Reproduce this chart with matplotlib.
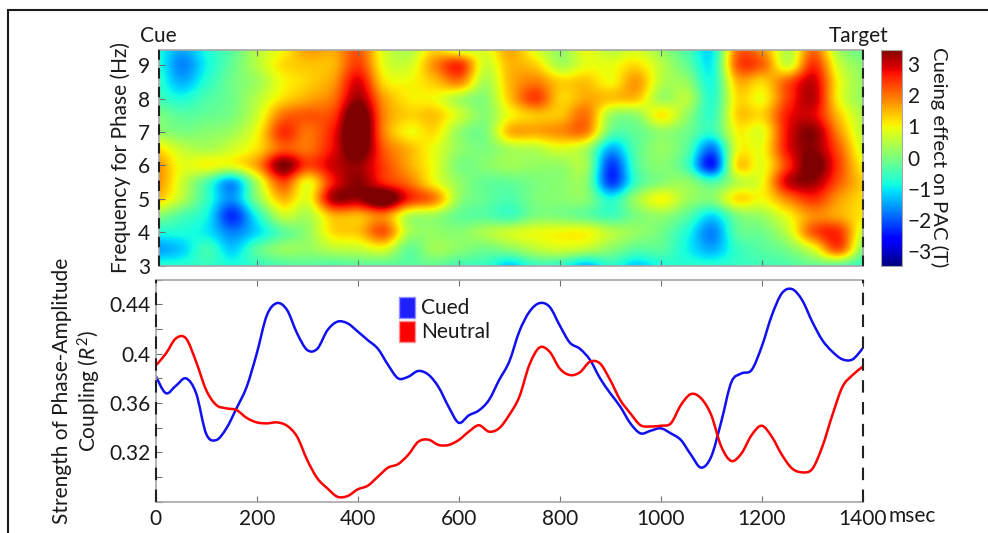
import numpy as np
import matplotlib
matplotlib.use('Agg')
import matplotlib.pyplot as plt
from matplotlib.lines import Line2D
from matplotlib.patches import Patch, PathPatch
from matplotlib.path import Path
from matplotlib.ticker import MultipleLocator

plt.rcParams['font.family'] = ['Lato', 'DejaVu Sans']
plt.rcParams['mathtext.fontset'] = 'custom'
plt.rcParams['mathtext.rm'] = 'Lato'
plt.rcParams['mathtext.it'] = 'Lato:italic'

W, H = 988, 533
FONT = 15
GREY = '#a6a6a6'
TEXT = '#1a1a1a'

# --- data ---
time_ms = np.arange(0, 1401, 50)
freq_hz = np.arange(3, 9.51, 0.5)

pac_3_0 = [-0.7, -0.7, -0.6, -0.8, -0.6, -0.4, -0.3, -0.4, -0.3, -0.3, -0.3, -0.2, -0.5, -0.6, -1.2, -0.6, -0.7, -1.3, -0.7, -1.2, -0.8, -0.7, -0.7, -0.6, -0.5, -0.4, -0.2, -0.3, -0.6]
pac_3_5 = [-1.5, -1.2, -0.5, -1.2, -0.3, 0.2, 0.2, 0.5, 0.6, 0.8, -0.2, 0.3, 0.1, -0.1, 0.1, 0.5, 0.7, 0.5, 0.1, -0.3, -0.3, -0.9, -1.4, -0.6, -0.3, 0.0, 0.8, 2.2, 0.0]
pac_4_0 = [-0.8, -0.8, -1.0, -1.7, -1.1, -0.3, 0.2, 1.2, 1.4, 2.2, 0.4, 0.2, 0.1, 0.4, 0.7, 0.9, 1.0, 1.0, 0.5, 0.2, -0.1, -0.8, -1.7, -0.3, -0.1, 0.6, 2.2, 2.5, 0.6]
pac_4_5 = [0.1, -0.4, -0.9, -2.3, -0.8, 0.6, 0.4, 1.5, 1.5, 1.9, 0.5, 0.3, -0.2, -0.3, -0.5, 0.0, 0.0, -0.2, -0.5, 0.0, 0.2, -0.3, -1.1, 0.0, 0.3, 1.0, 1.8, 1.6, 1.1]
pac_5_0 = [1.4, 0.5, -0.6, -1.6, 0.1, 1.5, 0.9, 3.2, 3.3, 4.0, 2.6, 1.9, 0.2, -0.2, -0.4, 0.0, 0.1, 0.1, -0.8, 0.3, 1.0, 0.3, 0.1, 1.2, 1.0, 1.9, 2.5, 1.7, 1.2]
pac_5_5 = [1.8, 0.7, -0.4, -1.5, 0.5, 2.3, 1.0, 2.7, 3.4, 2.6, 2.0, 1.0, 0.2, -0.2, -0.2, 0.0, 0.1, 0.1, -2.2, -0.5, 0.1, 0.2, -0.4, 0.5, 1.0, 3.0, 3.3, 2.2, 1.3]
pac_6_0 = [1.8, 0.9, 1.0, 0.9, 1.7, 3.5, 2.4, 3.0, 3.3, 2.4, 1.6, 0.9, 0.0, 0.1, 0.3, 0.2, 0.2, 0.3, -2.2, -0.4, 0.1, -0.5, -2.4, 1.2, 0.9, 2.5, 3.7, 2.4, 1.0]
pac_6_5 = [1.2, 0.6, 0.4, 0.7, 1.2, 2.2, 2.0, 2.8, 3.9, 2.2, 1.5, 0.9, 0.2, 0.0, 0.4, 0.5, 0.8, 0.4, -1.4, -0.3, 0.2, -0.3, -1.8, 0.9, 1.0, 2.8, 3.4, 2.2, 0.7]
pac_7_0 = [0.2, 0.0, 0.1, 0.3, 1.0, 2.5, 2.0, 2.7, 4.2, 1.9, 1.0, 1.2, 0.2, 0.0, 1.5, 1.6, 1.8, 1.9, -0.2, -0.2, 0.2, -0.1, -0.6, 1.0, 0.9, 2.8, 3.4, 1.8, 0.5]
pac_7_5 = [0.0, -0.3, -0.2, 0.0, 0.7, 2.0, 2.2, 2.4, 4.0, 1.9, 1.3, 1.4, 0.7, 0.1, 1.0, 1.4, 1.4, 2.0, 0.3, 0.2, 1.1, 0.2, -0.6, 1.3, 1.3, 2.7, 2.9, 1.4, 0.4]
pac_8_0 = [-0.5, -0.8, -0.4, -0.1, 0.5, 1.2, 1.6, 2.0, 3.3, 1.7, 1.1, 1.0, 0.4, 0.1, 1.4, 2.4, 1.3, 1.6, 1.4, 1.4, 0.3, 0.5, -0.7, 1.2, 1.0, 2.4, 3.1, 1.0, 0.2]
pac_8_5 = [-0.6, -1.4, -0.7, -0.1, 0.3, 1.0, 1.3, 1.7, 2.9, 1.2, 1.0, 1.4, 1.9, 0.4, 1.5, 1.9, 1.3, 1.4, 1.0, 1.7, 0.5, 0.2, -0.8, 1.5, 1.3, 2.2, 3.0, 1.0, 0.2]
pac_9_0 = [-0.7, -1.7, -0.9, -0.2, 0.5, 1.2, 1.4, 1.5, 2.4, 0.9, 0.7, 1.8, 2.5, 0.7, 1.5, 1.3, 0.4, 0.9, 0.9, 1.2, 0.5, -0.2, -0.9, 2.2, 2.1, 0.7, 2.5, 0.7, 0.1]
pac_9_5 = [-0.8, -1.4, -0.8, -0.3, 0.5, 1.0, 1.7, 1.6, 2.2, 0.8, 0.4, 1.2, 0.6, 0.8, 1.6, 0.8, 0.2, 0.9, 0.5, 0.7, 0.2, -0.4, -1.0, 2.0, 1.7, 0.5, 2.0, 0.3, -0.2]

line_ms = np.arange(0, 1401, 20)
cued = [0.382, 0.368, 0.374, 0.380, 0.368, 0.335, 0.330, 0.3395, 0.3557, 0.373, 0.400, 0.431, 0.441, 0.4355, 0.4165, 0.403, 0.404, 0.419, 0.426, 0.4246, 0.418, 0.411, 0.404, 0.391, 0.380, 0.3813, 0.386, 0.383, 0.373, 0.357, 0.344, 0.350, 0.354, 0.3625, 0.3786, 0.3935, 0.418, 0.434, 0.441, 0.438, 0.423, 0.409, 0.404, 0.395, 0.380, 0.368, 0.357, 0.3435, 0.3354, 0.3375, 0.3395, 0.3354, 0.330, 0.318, 0.3076, 0.3165, 0.345, 0.377, 0.384, 0.3868, 0.4057, 0.431, 0.449, 0.4524, 0.4435, 0.426, 0.411, 0.4016, 0.3954, 0.3954, 0.4043]
neutral = [0.3903, 0.400, 0.4124, 0.4124, 0.3935, 0.3705, 0.3584, 0.3557, 0.3543, 0.348, 0.3443, 0.3435, 0.3443, 0.3416, 0.3327, 0.3138, 0.299, 0.2908, 0.284, 0.2846, 0.290, 0.293, 0.3003, 0.3076, 0.3105, 0.318, 0.3286, 0.3303, 0.326, 0.326, 0.330, 0.3368, 0.342, 0.3368, 0.3395, 0.3503, 0.365, 0.391, 0.405, 0.4016, 0.388, 0.3827, 0.3849, 0.3935, 0.392, 0.3786, 0.3624, 0.3516, 0.342, 0.341, 0.3416, 0.3435, 0.3584, 0.3673, 0.3638, 0.3503, 0.3246, 0.313, 0.3192, 0.334, 0.3416, 0.3327, 0.318, 0.307, 0.3038, 0.3065, 0.3246, 0.3503, 0.3732, 0.3827, 0.3895]

x_ticks = [0, 200, 400, 600, 800, 1000, 1200, 1400]
freq_ticks = [3, 4, 5, 6, 7, 8, 9]
r2_ticks = [0.32, 0.36, 0.40, 0.44]
r2_labels = ['0.32', '0.36', '0.4', '0.44']
cbar_ticks = [-3, -2, -1, 0, 1, 2, 3]


def px_axes(fig, left, top, right, bottom):
    """Axes placed from pixel edges of the picture."""
    return fig.add_axes([left / W, 1 - bottom / H, (right - left) / W, (bottom - top) / H])


def style_axes(ax):
    for s in ax.spines.values():
        s.set_color(GREY)
        s.set_linewidth(1.2)
    ax.tick_params(which='both', direction='in', color='#707070', width=0.8, length=4,
                   labelsize=FONT, labelcolor=TEXT, pad=4)


def smooth_curve(ax, xs, ys, color):
    """Draw the read points as one smooth bezier curve (the source curve has no corners)."""
    pts = np.column_stack([xs, ys])
    prev_pts = np.vstack([pts[0], pts[:-1]])
    next_pts = np.vstack([pts[1:], pts[-1]])
    tangents = (next_pts - prev_pts) / 6
    verts = [pts[0]]
    codes = [Path.MOVETO]
    for i in range(len(pts) - 1):
        verts += [pts[i] + tangents[i], pts[i + 1] - tangents[i + 1], pts[i + 1]]
        codes += [Path.CURVE4] * 3
    ax.add_patch(PathPatch(Path(verts, codes), fill=False, edgecolor=color, lw=1.8, capstyle='round'))


fig = plt.figure(figsize=(W / 100, H / 100), dpi=100)

# --- heat map ---
pac = np.array([pac_3_0, pac_3_5, pac_4_0, pac_4_5, pac_5_0, pac_5_5, pac_6_0,
                pac_6_5, pac_7_0, pac_7_5, pac_8_0, pac_8_5, pac_9_0, pac_9_5])
ax_heat = px_axes(fig, 158.7, 49.5, 863, 265.7)
im = ax_heat.imshow(pac, origin='lower', aspect='auto', cmap='jet', vmin=-3.47, vmax=3.47,
                    interpolation='catrom',
                    extent=(time_ms[0] - 25, time_ms[-1] + 25, freq_hz[0] - 0.25, freq_hz[-1] + 0.25))
ax_heat.set_xlim(5, 1400)
ax_heat.set_ylim(3, 9.47)
style_axes(ax_heat)
ax_heat.set_xticks(x_ticks[1:-1])
ax_heat.tick_params(axis='x', labelbottom=False, top=True)
ax_heat.set_yticks(freq_ticks)
ax_heat.tick_params(axis='y', pad=6)
ax_heat.set_ylabel('Frequency for Phase (Hz)', fontsize=FONT, color=TEXT, labelpad=5)
for t in (5, 1400):
    ax_heat.axvline(t, color='#222222', lw=1.5, dashes=(5, 4), clip_on=False, zorder=5)
ax_heat.text(5, 1.015, 'Cue', transform=ax_heat.get_xaxis_transform(), ha='center', va='bottom',
             fontsize=FONT, color=TEXT)
ax_heat.text(1392, 1.015, 'Target', transform=ax_heat.get_xaxis_transform(), ha='center', va='bottom',
             fontsize=FONT, color=TEXT)

# --- colour bar ---
cax = px_axes(fig, 881, 49.5, 902, 265.7)
cbar = fig.colorbar(im, cax=cax, ticks=cbar_ticks)
cbar.outline.set_edgecolor(GREY)
cbar.ax.tick_params(direction='in', length=0, labelsize=FONT, labelcolor=TEXT, pad=4)
cbar.set_label('Cueing effect on PAC (T)', rotation=270, fontsize=14.6, color=TEXT, labelpad=12)

# --- line panel ---
ax_line = px_axes(fig, 155.7, 279.7, 862.7, 501.7)
smooth_curve(ax_line, line_ms, cued, '#1010f0')
smooth_curve(ax_line, line_ms, neutral, '#ff0000')
ax_line.set_xlim(0, 1400)
ax_line.set_ylim(0.28, 0.46)
style_axes(ax_line)
ax_line.set_xticks(x_ticks)
ax_line.set_yticks(r2_ticks, r2_labels)
ax_line.yaxis.set_minor_locator(MultipleLocator(0.02))
ax_line.tick_params(axis='x', top=True, pad=5)
ax_line.spines['right'].set_visible(False)
ax_line.set_ylabel('Strength of Phase-Amplitude\nCoupling ($\\mathit{R}^2$)', fontsize=FONT,
                   color=TEXT, labelpad=4, linespacing=1.2)
for t in (0, 1400):
    ax_line.axvline(t, color='#222222', lw=1.5, dashes=(6, 4.5), clip_on=False, zorder=5)
ax_line.text(1452, -0.02, 'msec', transform=ax_line.get_xaxis_transform(), ha='left', va='top',
             fontsize=FONT, color=TEXT)
handles = [Patch(facecolor='#2020ff', edgecolor='#9090ff', label='Cued'),
           Patch(facecolor='#ff0000', edgecolor='#ff9090', label='Neutral')]
ax_line.legend(handles=handles, frameon=False, fontsize=FONT, labelcolor=TEXT, loc='upper left',
               bbox_to_anchor=(0.344, 0.922), handlelength=0.75, handleheight=1.15,
               handletextpad=0.3, labelspacing=0.12, borderpad=0, borderaxespad=0)

# --- frame: left and top only ---
fig.add_artist(Line2D([7.5 / W, 7.5 / W, 1], [0, 1 - 10 / H, 1 - 10 / H],
                      color='#1a1a1a', lw=1.5, solid_joinstyle='miter'))

fig.savefig('out.png', dpi=100)
